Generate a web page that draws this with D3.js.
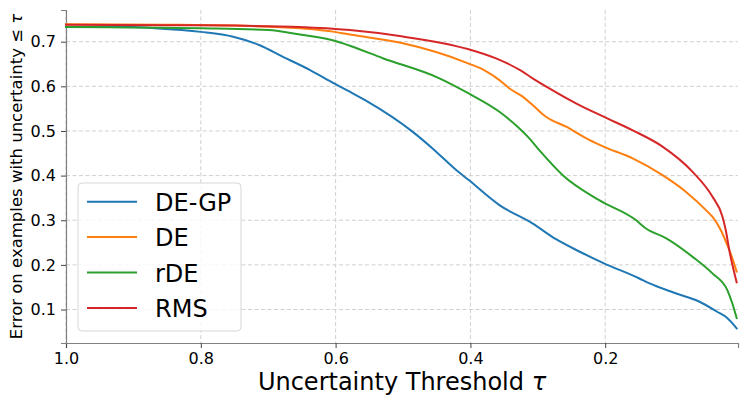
<!DOCTYPE html>
<html>
<head>
<meta charset="utf-8">
<script src="https://cdn.jsdelivr.net/npm/d3@7/dist/d3.min.js"></script>
<style>
  html, body { margin: 0; padding: 0; background: #fff; }
  svg { display: block; font-family: "DejaVu Sans", sans-serif; }
</style>
</head>
<body>
<svg id="chart" width="747" height="407"></svg>
<script>
// ---- data ----
const seriesNames = ["DE-GP", "DE", "rDE", "RMS"];
const seriesColors = ["#1f77b4", "#ff7f0e", "#2ca02c", "#d62728"];

const tauDEGP = [1.0, 0.90, 0.8756, 0.80, 0.752, 0.7126, 0.678, 0.6385, 0.6015, 0.579, 0.555, 0.4855, 0.4533, 0.4237, 0.4025, 0.357, 0.308, 0.273, 0.2385, 0.2026, 0.15, 0.135, 0.0967, 0.0607, 0.034, 0.019, 0.005];
const errDEGP = [0.733, 0.733, 0.731, 0.722, 0.711, 0.692, 0.666, 0.637, 0.606, 0.588, 0.568, 0.498, 0.457, 0.416, 0.390, 0.334, 0.293, 0.2575, 0.230, 0.204, 0.170, 0.159, 0.137, 0.118, 0.095, 0.081, 0.058];

const tauDE = [1.0, 0.85, 0.75, 0.653, 0.6015, 0.579, 0.505, 0.4025, 0.379, 0.357, 0.342, 0.3225, 0.3077, 0.288, 0.258, 0.2237, 0.2025, 0.16, 0.115, 0.0805, 0.046, 0.041, 0.0286, 0.024, 0.014, 0.005];
const errDE = [0.739, 0.738, 0.736, 0.730, 0.722, 0.716, 0.698, 0.651, 0.636, 0.614, 0.595, 0.577, 0.558, 0.532, 0.5095, 0.480, 0.465, 0.439, 0.401, 0.364, 0.316, 0.308, 0.278, 0.263, 0.226, 0.185];

const tauRDE = [1.0, 0.80, 0.70, 0.653, 0.6015, 0.579, 0.530, 0.446, 0.4025, 0.357, 0.330, 0.3126, 0.2978, 0.263, 0.209, 0.155, 0.14, 0.110, 0.0707, 0.041, 0.019, 0.0115, 0.005];
const errRDE = [0.733, 0.730, 0.726, 0.716, 0.702, 0.691, 0.663, 0.618, 0.584, 0.543, 0.5095, 0.4835, 0.457, 0.401, 0.345, 0.301, 0.282, 0.260, 0.2185, 0.181, 0.144, 0.114, 0.081];

const tauRMS = [1.0, 0.85, 0.75, 0.653, 0.579, 0.505, 0.4025, 0.362, 0.325, 0.3077, 0.283, 0.2434, 0.2025, 0.16, 0.115, 0.0707, 0.041, 0.026, 0.0212, 0.016, 0.005];
const errRMS = [0.738, 0.737, 0.736, 0.733, 0.726, 0.7126, 0.683, 0.6626, 0.635, 0.618, 0.5955, 0.562, 0.532, 0.502, 0.465, 0.409, 0.353, 0.308, 0.278, 0.2335, 0.161];

const xTicks = [1.0, 0.8, 0.6, 0.4, 0.2];
const yTicks = [0.1, 0.2, 0.3, 0.4, 0.5, 0.6, 0.7];

const seriesTau = [tauDEGP, tauDE, tauRDE, tauRMS];
const seriesErr = [errDEGP, errDE, errRDE, errRMS];

// ---- layout ----
const svg = d3.select("#chart");
const mLeft = 66, mRight = 738, mTop = 10, mBottom = 343;

const x = d3.scaleLinear().domain([1.0, 0.003]).range([mLeft, mRight]);
const y = d3.scaleLinear().domain([0.025, 0.771]).range([mBottom, mTop]);

// grid
const grid = svg.append("g");
grid.selectAll("line.gx").data(xTicks).enter().append("line")
  .attr("x1", d => x(d)).attr("x2", d => x(d))
  .attr("y1", mTop).attr("y2", mBottom)
  .attr("stroke", "#d0d0d0").attr("stroke-width", 1).attr("stroke-dasharray", "4,2.5");
grid.selectAll("line.gy").data(yTicks).enter().append("line")
  .attr("x1", mLeft).attr("x2", mRight)
  .attr("y1", d => y(d)).attr("y2", d => y(d))
  .attr("stroke", "#d0d0d0").attr("stroke-width", 1).attr("stroke-dasharray", "4,2.5");

// axes
const xAxis = d3.axisBottom(x).tickValues(xTicks).tickFormat(d3.format(".1f")).tickSize(5).tickPadding(5);
const yAxis = d3.axisLeft(y).tickValues(yTicks).tickFormat(d3.format(".1f")).tickSize(5).tickPadding(5);

const gx = svg.append("g").attr("transform", `translate(0,${mBottom})`).call(xAxis);
const gy = svg.append("g").attr("transform", `translate(${mLeft},0)`).call(yAxis);
[gx, gy].forEach(g => {
  g.select(".domain").attr("stroke", "#808080").attr("stroke-width", 1.2);
  g.selectAll(".tick line").attr("stroke", "#444").attr("stroke-width", 1);
  g.selectAll(".tick text").attr("fill", "#000").style("font-size", "16px").style("font-family", "DejaVu Sans");
});

// lines
const line = d3.line().x(d => x(d[0])).y(d => y(d[1])).curve(d3.curveMonotoneX);
seriesNames.forEach((name, i) => {
  const pts = seriesTau[i].map((t, j) => [t, seriesErr[i][j]]);
  svg.append("path").datum(pts)
    .attr("d", line)
    .attr("fill", "none")
    .attr("stroke", seriesColors[i])
    .attr("stroke-width", 2)
    .attr("stroke-linejoin", "round")
    .attr("stroke-linecap", "square");
});

// labels
const xl = svg.append("text")
  .attr("x", (mLeft + mRight) / 2).attr("y", 390)
  .attr("text-anchor", "middle")
  .style("font-size", "24px");
xl.append("tspan").text("Uncertainty Threshold ");
xl.append("tspan").style("font-style", "italic").text("τ");

const yl = svg.append("text")
  .attr("transform", `translate(22,${(mTop + mBottom) / 2}) rotate(-90)`)
  .attr("text-anchor", "middle")
  .style("font-size", "16.5px");
yl.append("tspan").text("Error on examples with uncertainty ≤ ");
yl.append("tspan").style("font-style", "italic").text("τ");

// legend
const lg = svg.append("g");
lg.append("rect")
  .attr("x", 78).attr("y", 183).attr("width", 163).attr("height", 148)
  .attr("rx", 4).attr("ry", 4)
  .attr("fill", "#fff").attr("fill-opacity", 0.8)
  .attr("stroke", "#d6d6d6").attr("stroke-width", 1);
seriesNames.forEach((name, i) => {
  const cy = 201.7 + i * 35.4;
  lg.append("line")
    .attr("x1", 87).attr("x2", 137)
    .attr("y1", cy).attr("y2", cy)
    .attr("stroke", seriesColors[i]).attr("stroke-width", 2);
  lg.append("text")
    .attr("x", 155).attr("y", cy + 9)
    .style("font-size", "24px")
    .text(name);
});
</script>
</body>
</html>
